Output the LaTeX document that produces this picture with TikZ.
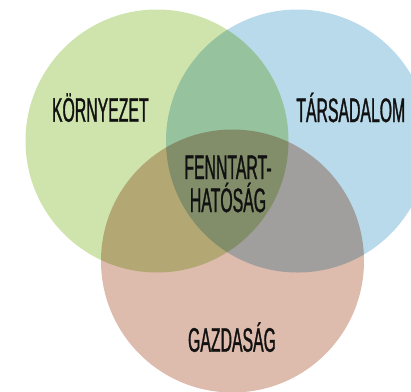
\documentclass[tikz,border=0pt]{standalone}
\usepackage{fontspec}
\usepackage{xcolor}
\newfontfamily\vennfont[FakeStretch=0.465, FakeBold=0.9]{Liberation Sans}
\definecolor{envgreen}{RGB}{207,228,172}
\definecolor{socblue}{RGB}{185,218,234}
\definecolor{ecobrown}{RGB}{221,187,173}
\definecolor{inkdark}{RGB}{17,17,17}
\tikzstyle{sphere} = [circle, minimum size=263pt, inner sep=0pt]
\tikzstyle{setname} = [text=inkdark, inner sep=0pt, font=\vennfont\fontsize{34}{33}\selectfont, align=center]

\begin{document}
\begin{tikzpicture}[x=1pt, y=-1pt]
\useasboundingbox (0,0) rectangle (411,391);
\clip (0,0) rectangle (411,391);

% Circles
\begin{scope}[blend group=multiply]
\node (kornyezet) [sphere, fill=envgreen] at (157,141) {};
\node (tarsadalom) [sphere, fill=socblue] at (297.5,141) {};
\node (gazdasag) [sphere, fill=ecobrown] at (232.5,261) {};
\end{scope}

% Names
\node (kornyezet-name) [setname, anchor=base] at (100.3,121.7) {KÖRNYEZET};
\node (tarsadalom-name) [setname, anchor=base] at (350.8,122) {TÁRSADALOM};
\node (gazdasag-name) [setname, anchor=base] at (232,351.7) {GAZDASÁG};
\node (fenntarthatosag) [setname] at (228,184) {FENNTART-\\HATÓSÁG};

\end{tikzpicture}
\end{document}
